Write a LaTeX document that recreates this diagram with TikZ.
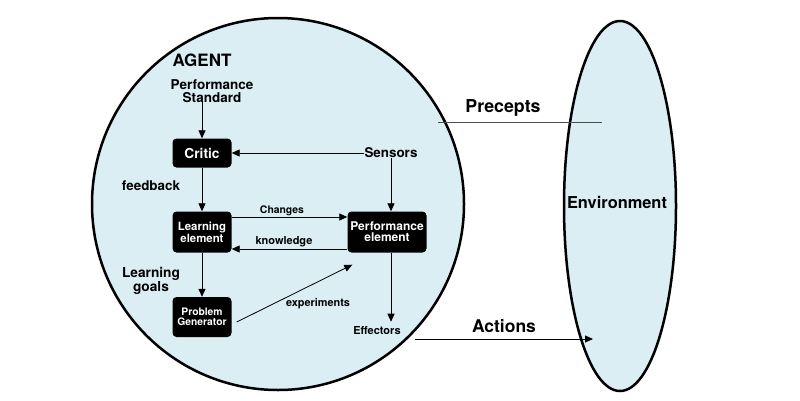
\documentclass[tikz,border=0pt]{standalone}
\usepackage{fontspec}
\setmainfont{TeX Gyre Heros}
\usetikzlibrary{arrows.meta,shapes.geometric}
\definecolor{paleblue}{RGB}{219,238,244}
\newcommand{\fs}[2]{\fontsize{#1}{#2}\selectfont\bfseries}
\tikzset{
  blk/.style={fill=black, rounded corners=4pt, text=white, align=center,
    inner sep=0pt, minimum width=59pt},
  lbl/.style={align=center, inner sep=0pt},
  con/.style={line width=0.8pt, -{Triangle[length=8pt,width=7pt]}},
  rim/.style={draw, line width=2.5pt, fill=paleblue, inner sep=0pt},
}

\begin{document}
\begin{tikzpicture}[x=1pt,y=-1pt]
%%%%% START %%%%%
\useasboundingbox (0,0) rectangle (800,400);

% agent and environment
\node[rim, circle, minimum size=372pt] (agent) at (278,204) {};
\node[rim, ellipse, minimum width=112pt, minimum height=370pt] (env) at (620,206) {};
\node[lbl, font=\fs{16.4}{18}] (envtxt) at (617,202) {Environment};

% labels
\node[lbl, font=\fs{17}{18}] (agt) at (202,60) {AGENT};
\node[lbl, font=\fs{13.5}{12.5}] (std) at (212,91) {Performance\\Standard};
\node[lbl, font=\fs{13.4}{13}] (sens) at (391,153) {Sensors};
\node[lbl, font=\fs{13.4}{13}] (fb) at (151,186) {feedback};
\node[lbl, font=\fs{13.7}{12.5}] (goals) at (151,281) {Learning\\goals};
\node[lbl, font=\fs{11}{11}] (eff) at (377,331) {Effectors};
\node[lbl, font=\fs{17.8}{18}] (prec) at (503,108) {Precepts};
\node[lbl, font=\fs{17.5}{18}] (act) at (504,326) {Actions};

% boxes
\node[blk, minimum height=29pt, font=\fs{13.7}{13}] (critic) at (202,153) {Critic};
\node[blk, minimum height=41pt, font=\fs{11.4}{10.5}] (learn) at (202,232) {Learning\\element};
\node[blk, minimum width=79pt, minimum height=41pt, font=\fs{12}{11}] (perf) at (387,232) {Performance\\element};
\node[blk, minimum height=40pt, font=\fs{10.3}{10}] (prob) at (202,317) {Problem\\Generator};

% edge labels
\node[lbl, font=\fs{10.4}{10}] (chg) at (282,211) {Changes};
\node[lbl, font=\fs{11}{11}] (kn) at (284,242) {knowledge};
\node[lbl, font=\fs{10.9}{11}] (expm) at (318,304) {experiments};

% connectors
\draw[con] (critic.north |- std.south) -- (critic.north);
\draw[con] (sens) -- (critic);
\draw[con] (sens) -- (sens |- perf.north);
\draw[con] (critic) -- (learn);
\draw[con] ([yshift=15pt]learn.east) -- ([yshift=15pt]perf.west);
\draw[con] ([yshift=-17pt]perf.west) -- ([yshift=-17pt]learn.east);
\draw[con] (learn) -- (prob);
\draw[con] ([shift={(5,5)}]prob.east) -- ([shift={(5,12)}]perf.south west);
\draw[con] (sens |- perf.south) -- ([yshift=5pt]sens |- eff.north);

\coordinate (pa) at (438,122);
\coordinate (pb) at (602,122);
\draw[line width=0.8pt, black!70] (pa) -- (pb);
\coordinate (aa) at (415,339);
\coordinate (ab) at (593,339);
\draw[con] (aa) -- (ab);
%%%%% END %%%%%
\end{tikzpicture}
\end{document}
